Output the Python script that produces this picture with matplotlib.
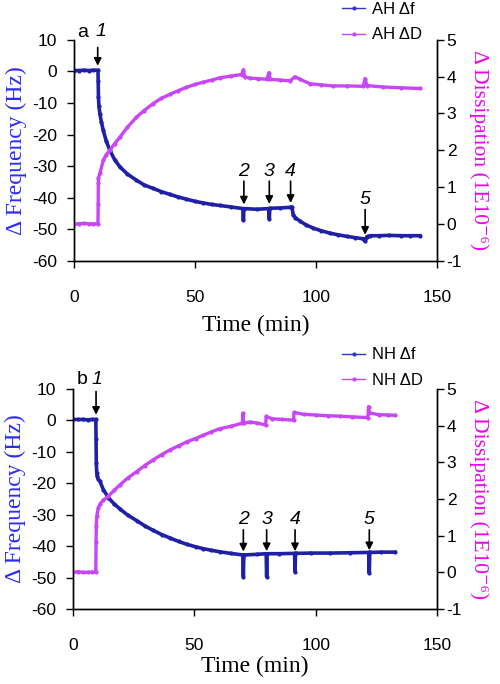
import matplotlib
matplotlib.use("Agg")
import matplotlib.pyplot as plt
from matplotlib.lines import Line2D

plt.rcParams['axes.unicode_minus'] = False

# ---------------- data ----------------
ah_t_f = [0, 2, 4, 6, 8, 9.9, 10.0, 10.1, 10.3, 10.7, 11.3, 12.1, 13.3, 14.8, 16.8, 19.0, 22, 25.8, 29,
          32.7, 36, 39.6, 43, 46.4, 50, 53.3, 57, 60.2, 65, 69.8, 70.0, 70.2, 75.5, 80.5, 80.7, 80.9, 85,
          89.3, 90.0, 90.6, 91.5, 93.4, 96, 98.9, 102, 105.8, 109, 112.7, 116, 119.6, 120.3, 121.0, 122.3,
          126, 130, 135, 139, 143]
ah_f = [0.3, 0.3, 0.4, 0.3, 0.4, 0.4, -3, -8.1, -11, -13.4, -16, -18.7, -22, -25.0, -28, -30.3, -32.5,
        -34.5, -36, -37.1, -38.1, -39.0, -39.8, -40.5, -41.2, -41.7, -42.2, -42.5, -43.0, -43.5, -47.2,
        -43.5, -43.7, -43.5, -46.8, -43.4, -43.3, -43.1, -43.0, -45.4, -46.4, -47.5, -48.7, -49.7, -50.5,
        -51.3, -51.8, -52.3, -52.7, -53.1, -53.9, -52.4, -52.1, -52.1, -52.0, -52.1, -52.1, -52.1]

ah_t_d = [0, 2, 4, 6, 8, 9.9, 10.0, 10.05, 10.1, 10.7, 12.1, 13.3, 14.8, 16.8, 19.0, 22, 25.8, 29, 32.7,
          36, 39.6, 43, 46.4, 50, 53.3, 57, 60.2, 65, 69.3, 70.0, 70.5, 72.7, 76, 79.6, 80.6, 81, 85, 89.3,
          91.3, 93.4, 97.5, 102, 107, 113, 119.5, 120.3, 121, 127.8, 135, 143]
ah_d = [0.0, 0.0, 0.01, 0.0, 0.0, 0.0, 0.55, 1.1, 1.25, 1.37, 1.73, 1.88, 2.0, 2.18, 2.36, 2.62, 2.9,
        3.08, 3.27, 3.41, 3.52, 3.62, 3.71, 3.79, 3.85, 3.91, 3.97, 4.02, 4.06, 4.19, 4.0, 3.96, 3.95,
        3.93, 4.11, 3.93, 3.91, 3.89, 4.0, 3.93, 3.81, 3.78, 3.75, 3.75, 3.74, 3.95, 3.76, 3.72, 3.70, 3.68]

nh_t_f = [0, 2, 4, 6, 8, 9.4, 9.5, 9.6, 9.8, 10.0, 10.4, 11.1, 12.5, 14.6, 17, 19.4, 22.5, 26.3, 29.5,
          33.1, 36.5, 40.0, 43.5, 46.9, 50.5, 53.7, 57, 60.6, 65, 70.0, 70.2, 70.4, 75.7, 79.6, 79.8, 80.0,
          85, 91.3, 91.5, 91.7, 98, 105.9, 114, 121.9, 122.1, 122.3, 127, 132.7]
nh_f = [0.3, 0.3, 0.3, 0.2, 0.3, 0.3, -5.8, -13.6, -16.7, -17.8, -18.7, -19.4, -22.0, -24.6, -26.6,
        -28.2, -30.1, -31.9, -33.5, -35.0, -36.3, -37.4, -38.5, -39.4, -40.2, -40.8, -41.3, -41.8, -42.3,
        -42.8, -49.7, -42.8, -42.6, -42.4, -49.7, -42.4, -42.4, -42.3, -48.1, -42.3, -42.2, -42.2, -42.1,
        -42.0, -48.6, -42.0, -41.9, -41.9]

nh_t_d = [0, 2, 4, 6, 8, 9.4, 9.5, 9.6, 9.8, 10.4, 11.1, 12.5, 14.6, 17, 19.4, 22.5, 26.3, 29.5, 33.1,
          36.5, 40.0, 43.5, 46.9, 50.5, 53.7, 57, 60.6, 65, 69.8, 70.0, 70.3, 73, 76, 79.4, 79.6, 82, 86,
          90.9, 91.1, 95, 100, 105, 110, 115, 121.5, 121.8, 122.1, 126, 130, 132.7]
nh_d = [0.0, 0.02, 0.0, 0.0, 0.01, 0.0, 0.83, 1.27, 1.54, 1.75, 1.86, 1.97, 2.08, 2.24, 2.39, 2.57,
        2.75, 2.91, 3.07, 3.21, 3.34, 3.45, 3.56, 3.65, 3.74, 3.83, 3.92, 3.98, 4.07, 4.34, 4.07, 4.10,
        4.07, 4.02, 4.25, 4.19, 4.17, 4.15, 4.36, 4.31, 4.29, 4.27, 4.26, 4.24, 4.22, 4.52, 4.35, 4.30,
        4.29, 4.28]

x_ticks = [0, 50, 100, 150]
f_ticks = [-60, -50, -40, -30, -20, -10, 0, 10]
d_ticks = [-1, 0, 1, 2, 3, 4, 5]

# injection arrows: label, time, text y, arrow start y, arrow tip y  (in Hz units)
ah_marks = [("1", 9.8, None, 7.6, 1.8), ("2", 70.2, -31.6, -34.8, -42.2), ("3", 80.7, -31.6, -34.8, -42.0),
            ("4", 89.5, -31.6, -34.8, -41.7), ("5", 120.3, -40.6, -43.8, -51.8)]
nh_marks = [("1", 9.5, None, 9.2, 1.8), ("2", 70.2, -31.6, -34.8, -41.7), ("3", 79.8, -31.6, -34.8, -41.6),
            ("4", 91.5, -31.6, -34.8, -41.6), ("5", 122.1, -31.6, -34.8, -41.3)]

BLUE = '#1f1fa8'
PINK = '#c846f5'
LBLUE = '#2a2aff'
MAG = '#f000f0'
SANS = 'Liberation Sans'
SERIF = ['Liberation Serif', 'DejaVu Serif']

fig = plt.figure(figsize=(5.0, 6.84), dpi=100)


def panel(rect, t_f, f, t_d, d, marks, letter, letter_pos, one_pos, prefix, leg_anchor, xlabpad):
    ax = fig.add_axes(rect)
    ax2 = ax.twinx()
    ax.plot(t_f, f, color=BLUE, lw=2.6, marker='.', ms=4, zorder=3)
    ax2.plot(t_d, d, color=PINK, lw=2.4, marker='.', ms=4)
    ax.set_xlim(0, 150)
    ax.set_ylim(-60, 10)
    ax2.set_ylim(-1, 5)
    ax.set_xticks(x_ticks)
    ax.set_yticks(f_ticks)
    ax2.set_yticks(d_ticks)
    for a in (ax, ax2):
        a.spines['top'].set_visible(False)
        for s in a.spines.values():
            s.set_linewidth(1.0)
    ax.tick_params(axis='both', direction='out', length=5, width=1, labelsize=12.5)
    ax.tick_params(axis='x', pad=16)
    ax.tick_params(axis='y', pad=7)
    ax2.tick_params(axis='y', direction='out', length=5, width=1, labelsize=12.5, pad=2)
    for lab in ax.get_xticklabels() + ax.get_yticklabels() + ax2.get_yticklabels():
        lab.set_fontfamily(SANS)
    ax.set_xlabel('Time (min)', fontfamily=SERIF, fontsize=17, labelpad=xlabpad)
    ax.set_ylabel('Δ Frequency (Hz)', fontfamily=SERIF, fontsize=17, color=LBLUE, labelpad=4)
    ax2.set_ylabel('Δ Dissipation (1E10⁻⁶)', fontfamily=SERIF, fontsize=15.5, color=MAG,
                   rotation=270, labelpad=19)
    # arrows
    for lab, t, ty, y0, y1 in marks:
        ax.annotate('', xy=(t, y1), xytext=(t, y0), annotation_clip=False,
                    arrowprops=dict(arrowstyle='-|>', color='black', lw=1.2,
                                    mutation_scale=11, shrinkA=0, shrinkB=0))
        if ty is not None:
            ax.text(t, ty, lab, fontsize=14, fontstyle='italic', fontfamily=SANS,
                    ha='center', va='center')
    ax.text(letter_pos[0], letter_pos[1], letter, fontsize=14, fontfamily=SANS, ha='center', va='center')
    ax.text(one_pos[0], one_pos[1], '1', fontsize=14, fontstyle='italic', fontfamily=SANS,
            ha='center', va='center')
    handles = [Line2D([], [], color='#3535c8', lw=1, marker='.', ms=4),
               Line2D([], [], color=PINK, lw=1, marker='.', ms=4)]
    fig.legend(handles, [prefix + ' Δf', prefix + ' ΔD'], loc='upper left',
               bbox_to_anchor=leg_anchor, frameon=False,
               handlelength=1.4, handletextpad=0.4, labelspacing=0.62, borderpad=0,
               borderaxespad=0, prop={'family': SANS, 'size': 12})
    return ax, ax2


panel([0.148, 0.619, 0.726, 0.3226], ah_t_f, ah_f, ah_t_d, ah_d, ah_marks, 'a', (3.4, 12.4),
      (11.0, 12.6), 'AH', (0.684, 0.997), 7)
panel([0.146, 0.1096, 0.728, 0.3217], nh_t_f, nh_f, nh_t_d, nh_d, nh_marks, 'b', (3.6, 13.0),
      (9.8, 13.0), 'NH', (0.684, 0.492), 2)

fig.savefig('out.png', dpi=100)
